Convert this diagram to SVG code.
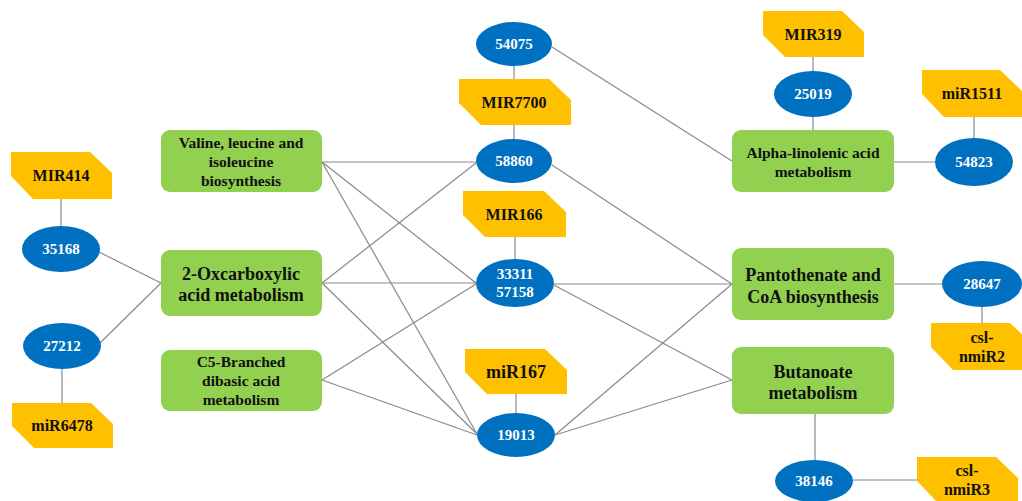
<svg xmlns="http://www.w3.org/2000/svg" width="1022" height="501" viewBox="0 0 1022 501">
<style>
.bg{fill:#ffffff}
.pw{fill:#92d050}
.mi{fill:#ffc000}
.gn{fill:#0070c0}
.edges line{stroke:#8a8a8a;stroke-width:1.2}
.t15{font-size:15.5px;fill:#111}
.t16{font-size:16px;fill:#111}
.t18{font-size:18px;fill:#111}
.tg{font-size:15px;fill:#ffffff}
</style>
<rect class="bg" x="0" y="0" width="1022" height="501"/>
<g id="edges" class="edges">
<line x1="61" y1="199" x2="61" y2="226"/>
<line x1="62" y1="369" x2="62" y2="403"/>
<line x1="99" y1="252" x2="161" y2="283"/>
<line x1="99" y1="344" x2="161" y2="283"/>
<line x1="514" y1="66" x2="514" y2="79"/>
<line x1="514" y1="125" x2="514" y2="139"/>
<line x1="515" y1="237" x2="515" y2="259"/>
<line x1="516" y1="394" x2="516" y2="413"/>
<line x1="813" y1="57" x2="813" y2="71"/>
<line x1="813" y1="117" x2="813" y2="130"/>
<line x1="974" y1="117" x2="974" y2="138"/>
<line x1="982" y1="307" x2="982" y2="323"/>
<line x1="815" y1="414" x2="815" y2="460"/>
<line x1="853" y1="480" x2="917" y2="480"/>
<line x1="894" y1="162" x2="935" y2="162"/>
<line x1="894" y1="284" x2="942" y2="284"/>
<line x1="322" y1="162" x2="476" y2="162"/>
<line x1="322" y1="162" x2="476" y2="283"/>
<line x1="322" y1="162" x2="477" y2="434"/>
<line x1="322" y1="283" x2="476" y2="163"/>
<line x1="322" y1="283" x2="476" y2="283"/>
<line x1="322" y1="283" x2="477" y2="434"/>
<line x1="322" y1="380" x2="476" y2="284"/>
<line x1="322" y1="380" x2="477" y2="435"/>
<line x1="552" y1="47" x2="732" y2="161"/>
<line x1="552" y1="165" x2="732" y2="284"/>
<line x1="554" y1="284" x2="732" y2="284"/>
<line x1="554" y1="285" x2="732" y2="380"/>
<line x1="555" y1="435" x2="732" y2="284"/>
<line x1="555" y1="435" x2="732" y2="380"/>
</g>
<g id="nodes" font-family="'Liberation Serif', 'Times New Roman', 'DejaVu Serif', serif" font-weight="bold" text-anchor="middle">
<g id="pw-valine"><rect class="pw" x="161" y="130" width="161" height="62" rx="9"/><text class="t15" x="241" y="148">Valine, leucine and</text><text class="t15" x="241" y="167">isoleucine</text><text class="t15" x="241" y="186">biosynthesis</text></g>
<g id="pw-oxc"><rect class="pw" x="161" y="250" width="161" height="66" rx="9"/><text class="t18" x="241" y="280">2-Oxcarboxylic</text><text class="t18" x="241" y="301">acid metabolism</text></g>
<g id="pw-c5"><rect class="pw" x="161" y="350" width="161" height="61" rx="9"/><text class="t15" x="241" y="367">C5-Branched</text><text class="t15" x="241" y="386">dibasic acid</text><text class="t15" x="241" y="405">metabolism</text></g>
<g id="pw-alpha"><rect class="pw" x="732" y="130" width="162" height="62" rx="9"/><text class="t15" x="813" y="158">Alpha-linolenic acid</text><text class="t15" x="813" y="177">metabolism</text></g>
<g id="pw-panto"><rect class="pw" x="732" y="248" width="162" height="72" rx="9"/><text class="t18" x="813" y="281">Pantothenate and</text><text class="t18" x="813" y="303">CoA biosynthesis</text></g>
<g id="pw-buta"><rect class="pw" x="732" y="347" width="162" height="67" rx="9"/><text class="t18" x="813" y="378">Butanoate</text><text class="t18" x="813" y="399">metabolism</text></g>
<g id="g35168"><ellipse class="gn" cx="61" cy="249" rx="39" ry="23"/><text class="tg" x="61" y="254">35168</text></g>
<g id="g27212"><ellipse class="gn" cx="62" cy="346" rx="39" ry="23"/><text class="tg" x="62" y="351">27212</text></g>
<g id="g54075"><ellipse class="gn" cx="514" cy="44" rx="38" ry="22"/><text class="tg" x="514" y="49">54075</text></g>
<g id="g58860"><ellipse class="gn" cx="514" cy="161" rx="38" ry="22"/><text class="tg" x="514" y="166">58860</text></g>
<g id="g33311"><ellipse class="gn" cx="515" cy="283" rx="39" ry="24"/><text class="tg" x="515" y="279">33311</text><text class="tg" x="515" y="297">57158</text></g>
<g id="g19013"><ellipse class="gn" cx="516" cy="435" rx="39" ry="22"/><text class="tg" x="516" y="440">19013</text></g>
<g id="g25019"><ellipse class="gn" cx="813" cy="94" rx="39" ry="23"/><text class="tg" x="813" y="99">25019</text></g>
<g id="g54823"><ellipse class="gn" cx="974" cy="162" rx="39" ry="24"/><text class="tg" x="974" y="167">54823</text></g>
<g id="g28647"><ellipse class="gn" cx="982" cy="284" rx="40" ry="23"/><text class="tg" x="982" y="289">28647</text></g>
<g id="g38146"><ellipse class="gn" cx="814" cy="481" rx="39" ry="21"/><text class="tg" x="814" y="486">38146</text></g>
<g id="m414"><polygon class="mi" points="11,152 90,152 112,173 112,199 33,199 11,176"/><text class="t16" x="61" y="181">MIR414</text></g>
<g id="m6478"><polygon class="mi" points="12,403 91,403 113,424 113,448 34,448 12,426"/><text class="t16" x="62" y="431">miR6478</text></g>
<g id="m7700"><polygon class="mi" points="459,79 549,79 571,100 571,125 481,125 459,103"/><text class="t16" x="514" y="108">MIR7700</text></g>
<g id="m166"><polygon class="mi" points="463,191 544,191 566,212 566,237 485,237 463,215"/><text class="t16" x="514" y="220">MIR166</text></g>
<g id="m167"><polygon class="mi" points="465,349 545,349 567,370 567,394 487,394 465,372"/><text class="t18" x="516" y="378">miR167</text></g>
<g id="m319"><polygon class="mi" points="763,11 842,11 864,32 864,57 785,57 763,35"/><text class="t16" x="813" y="40">MIR319</text></g>
<g id="m1511"><polygon class="mi" points="922,70 1000,70 1022,91 1022,117 944,117 922,94"/><text class="t16" x="972" y="99">miR1511</text></g>
<g id="m2"><polygon class="mi" points="931,323 1010,323 1032,344 1032,370 953,370 931,347"/><text class="t16" x="982" y="343">csl-</text><text class="t16" x="982" y="362">nmiR2</text></g>
<g id="m3"><polygon class="mi" points="917,457 996,457 1018,478 1018,504 939,504 917,481"/><text class="t16" x="967" y="476">csl-</text><text class="t16" x="967" y="495">nmiR3</text></g>
</g>
</svg>
